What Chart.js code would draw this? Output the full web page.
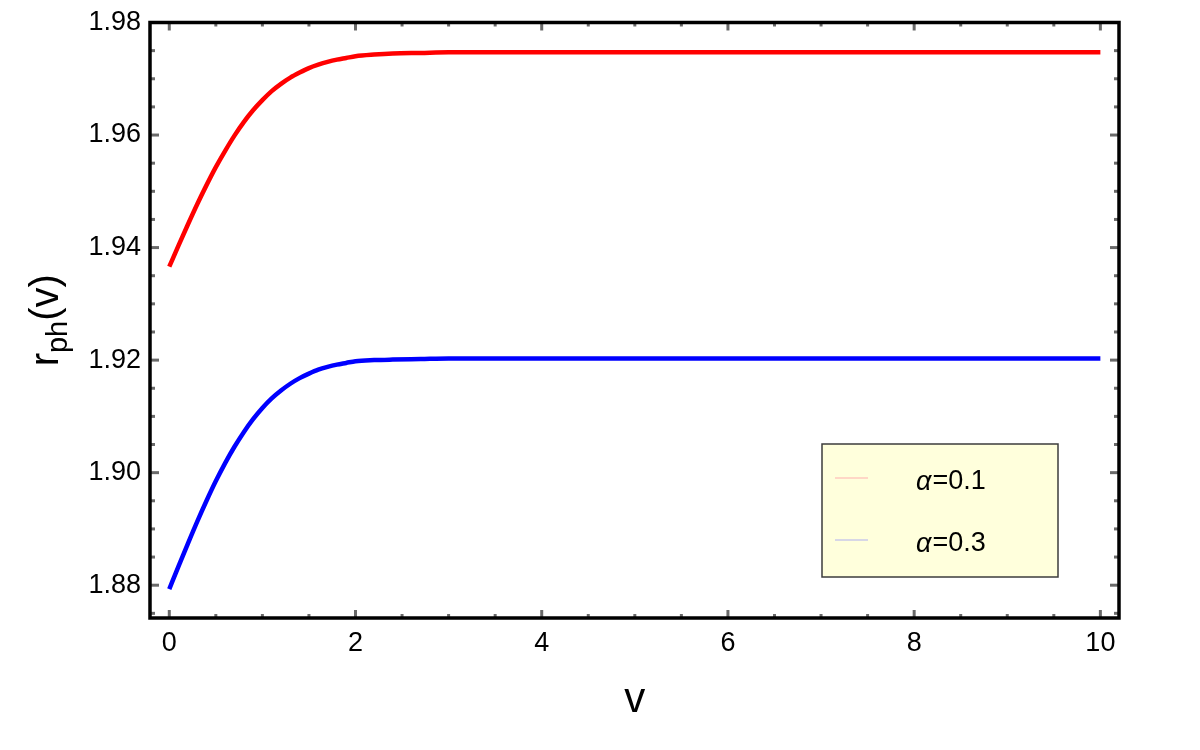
<!DOCTYPE html>
<html><head><meta charset="utf-8">
<script src="https://cdn.jsdelivr.net/npm/chart.js@4.4.0/dist/chart.umd.min.js"></script>
<style>html,body{margin:0;padding:0;background:#fff}#wrap{width:1200px;height:750px}</style>
</head><body><div id="wrap"><canvas id="c" width="1200" height="750"></canvas></div>
<script>
// ---- data ----
const vValues  = [0, 0.1, 0.2, 0.3, 0.4, 0.5, 0.6, 0.7, 0.8, 0.9, 1.0, 1.1, 1.2, 1.3, 1.4, 1.5, 1.6, 1.7, 1.8, 1.9, 2.0, 2.2, 2.4, 2.7, 3.0, 4, 5, 6, 7, 8, 9, 10];
const rAlpha01 = [1.9366, 1.9404, 1.9441, 1.9477, 1.9511, 1.9543, 1.9572, 1.9599, 1.9623, 1.9644, 1.9662, 1.9678, 1.9691, 1.9702, 1.9711, 1.9719, 1.9725, 1.9730, 1.9734, 1.9737, 1.9740, 1.9743, 1.9745, 1.9746, 1.9747, 1.9747, 1.9747, 1.9747, 1.9747, 1.9747, 1.9747, 1.9747];
const rAlpha03 = [1.8793, 1.8834, 1.8874, 1.8913, 1.8950, 1.8985, 1.9017, 1.9046, 1.9072, 1.9095, 1.9115, 1.9132, 1.9146, 1.9158, 1.9168, 1.9176, 1.9183, 1.9188, 1.9192, 1.9195, 1.9198, 1.9200, 1.9201, 1.9202, 1.9203, 1.9203, 1.9203, 1.9203, 1.9203, 1.9203, 1.9203, 1.9203];
const seriesNames = ['\u03B1=0.1', '\u03B1=0.3'];
const xTickValues = [0, 2, 4, 6, 8, 10];
const yTickValues = [1.88, 1.90, 1.92, 1.94, 1.96, 1.98];
const xAxisTitle = 'v';

const FONT = '"Liberation Sans", Arial, sans-serif';

function pts(ys){ return vValues.map((v,i)=>({x:v, y:ys[i]})); }

const framePlugin = {
  id: 'frame',
  afterDraw(chart){
    const {ctx, chartArea:a, scales:{x, y}} = chart;
    ctx.save();
    ctx.strokeStyle = '#6a6a6a';
    ctx.lineWidth = 3;
    ctx.lineCap = 'butt';
    const seg = (x1,y1,x2,y2)=>{ctx.beginPath();ctx.moveTo(x1,y1);ctx.lineTo(x2,y2);ctx.stroke();};
    for (let i = 0; i <= 20; i++) {
      const v = i * 0.5;
      const px = x.getPixelForValue(v);
      const L = (i % 4 === 0) ? 8 : 4;
      seg(px, a.bottom, px, a.bottom - L);
      seg(px, a.top, px, a.top + L);
    }
    for (let i = 0; i <= 21; i++) {
      const v = 1.875 + i * 0.005;
      const py = y.getPixelForValue(v);
      const L = ((i + 3) % 4 === 0) ? 9 : 5;
      seg(a.left, py, a.left + L, py);
      seg(a.right, py, a.right - L, py);
    }
    ctx.strokeStyle = '#000';
    ctx.lineWidth = 3.5;
    ctx.strokeRect(a.left, a.top, a.right - a.left, a.bottom - a.top);

    // y title r_ph(v)
    ctx.fillStyle = '#000';
    ctx.translate(46, (a.top + a.bottom) / 2);
    ctx.rotate(-Math.PI / 2);
    const mainF = '40px ' + FONT, subF = '29px ' + FONT;
    ctx.font = mainF; const w1 = ctx.measureText('r').width, w3 = ctx.measureText('(v)').width;
    ctx.font = subF; const w2 = ctx.measureText('ph').width;
    let sx = -(w1 + w2 + w3) / 2;
    ctx.textBaseline = 'alphabetic';
    ctx.textAlign = 'left';
    ctx.font = mainF; ctx.fillText('r', sx, 12); sx += w1;
    ctx.font = subF; ctx.fillText('ph', sx, 21); sx += w2;
    ctx.font = mainF; ctx.fillText('(v)', sx, 12);
    ctx.restore();

    // x title
    ctx.save();
    ctx.fillStyle = '#000';
    ctx.font = '42px ' + FONT;
    ctx.textAlign = 'center';
    ctx.textBaseline = 'alphabetic';
    ctx.fillText(xAxisTitle, x.getPixelForValue(5), 712);
    ctx.restore();

    // legend box
    ctx.save();
    const bx = 822, by = 444, bw = 236, bh = 133;
    ctx.fillStyle = '#ffffdc';
    ctx.fillRect(bx, by, bw, bh);
    ctx.strokeStyle = '#3c3c3c';
    ctx.lineWidth = 1.5;
    ctx.strokeRect(bx, by, bw, bh);
    const sampleCols = ['#ffb0b0', '#b0b0f0'];
    const rows = [478, 540];
    chart.data.datasets.forEach((ds, i) => {
      const yy = rows[i];
      ctx.strokeStyle = sampleCols[i];
      ctx.lineWidth = 1.2;
      seg(835, yy, 868, yy);
      const lbl = ds.label;
      ctx.fillStyle = '#000';
      ctx.textBaseline = 'middle';
      ctx.textAlign = 'left';
      ctx.font = 'italic 27px ' + FONT;
      ctx.fillText(lbl[0], 916, yy + 4);
      const wa = ctx.measureText(lbl[0]).width;
      ctx.font = '27px ' + FONT;
      ctx.fillText(lbl.slice(1), 916 + wa + 1, yy + 4);
    });
    ctx.restore();
  }
};

new Chart(document.getElementById('c'), {
  type: 'scatter',
  data: {
    datasets: [
      { label: seriesNames[0], data: pts(rAlpha01), showLine: true, borderColor: '#ff0000', borderWidth: 4.5, pointRadius: 0, cubicInterpolationMode: 'monotone', fill: false },
      { label: seriesNames[1], data: pts(rAlpha03), showLine: true, borderColor: '#0000ff', borderWidth: 4.5, pointRadius: 0, cubicInterpolationMode: 'monotone', fill: false }
    ]
  },
  options: {
    responsive: false,
    animation: false,
    devicePixelRatio: 1,
    layout: { padding: { top: 18, right: 81, left: 0, bottom: 0 } },
    plugins: { legend: { display: false }, tooltip: { enabled: false } },
    scales: {
      x: {
        type: 'linear', min: -0.207, max: 10.2,
        grid: { display: false, drawTicks: false },
        border: { display: false },
        afterBuildTicks: s => { s.ticks = xTickValues.map(v => ({ value: v })); },
        afterFit: s => { s.height = 132; },
        ticks: { color: '#000', font: { family: FONT, size: 27, lineHeight: 1 }, padding: 12, maxRotation: 0, callback: v => String(v) }
      },
      y: {
        type: 'linear', min: 1.87417, max: 1.98,
        grid: { display: false, drawTicks: false },
        border: { display: false },
        afterBuildTicks: s => { s.ticks = yTickValues.map(v => ({ value: v })); },
        afterFit: s => { s.width = 150; },
        ticks: { color: '#000', font: { family: FONT, size: 27, lineHeight: 1 }, padding: 9, callback: v => Number(v).toFixed(2) }
      }
    }
  },
  plugins: [framePlugin]
});
</script></body></html>
